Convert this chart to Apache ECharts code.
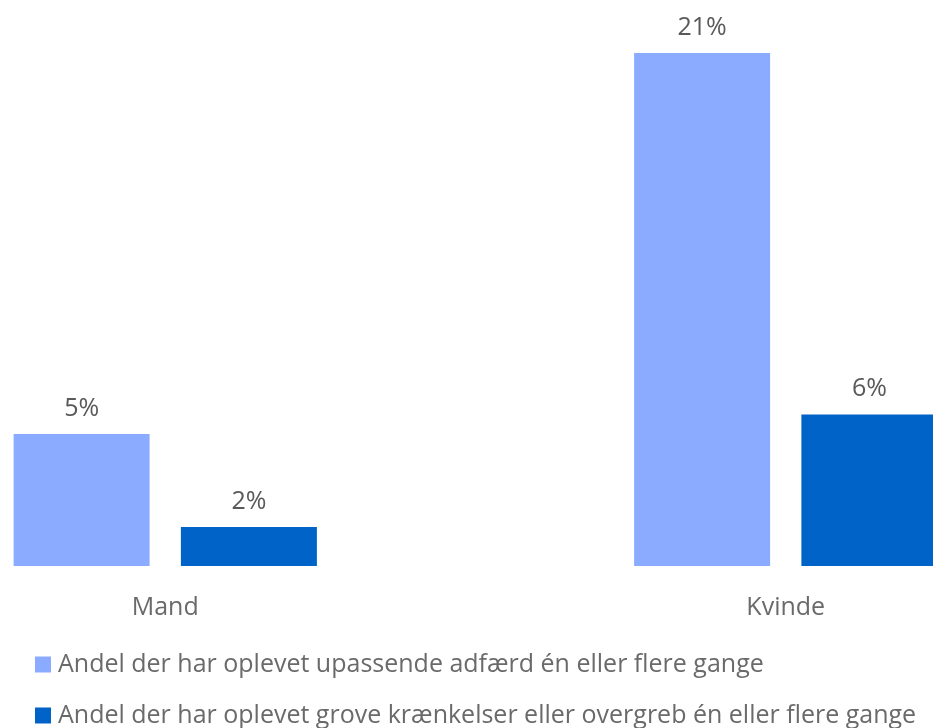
<!DOCTYPE html>
<html>
<head>
<meta charset="utf-8">
<script src="https://cdn.jsdelivr.net/npm/echarts@6/dist/echarts.min.js"></script>
<style>
  html, body { margin: 0; padding: 0; background: #fff; }
  #chart { width: 933px; height: 728px; }
</style>
</head>
<body>
<div id="chart"></div>
<script>
const categories = ["Mand", "Kvinde"];
const seriesNames = [
  "Andel der har oplevet upassende adfærd én eller flere gange",
  "Andel der har oplevet grove krænkelser eller overgreb én eller flere gange",
];
const upassende = [5.4, 21];
const grove = [1.6, 6.2];

const font = "'Open Sans', 'Noto Sans', sans-serif";
const chart = echarts.init(document.getElementById("chart"));

const label = {
  show: true,
  position: "top",
  distance: 13,
  color: "#595959",
  fontSize: 25,
  fontFamily: font,
  formatter: (p) => Math.round(p.value) + "%",
};

chart.setOption({
  animation: false,
  grid: {
    left: -145,
    width: 1241,
    top: 53,
    bottom: 162,
    outerBoundsMode: "none",
    containLabel: false,
  },
  legend: {
    orient: "vertical",
    left: 35,
    top: 652,
    height: 120,
    padding: 0,
    itemWidth: 16,
    itemHeight: 16,
    itemGap: 26,
    icon: "rect",
    textStyle: { color: "#6a6a6a", fontSize: 25, fontFamily: font, padding: [0, 0, 0, 2] },
    data: seriesNames,
  },
  xAxis: {
    type: "category",
    data: categories,
    axisLine: { show: false },
    axisTick: { show: false },
    axisLabel: { color: "#6a6a6a", fontSize: 25, fontFamily: font, margin: 29 },
  },
  yAxis: {
    type: "value",
    min: 0,
    max: 21,
    show: false,
    splitLine: { show: false },
  },
  series: [
    {
      name: seriesNames[0],
      type: "bar",
      data: upassende,
      barWidth: 136,
      barGap: "23%",
      itemStyle: { color: "#8aabff" },
      label,
    },
    {
      name: seriesNames[1],
      type: "bar",
      data: grove,
      barWidth: 136,
      itemStyle: { color: "#0063c7" },
      label,
    },
  ],
});
</script>
</body>
</html>
